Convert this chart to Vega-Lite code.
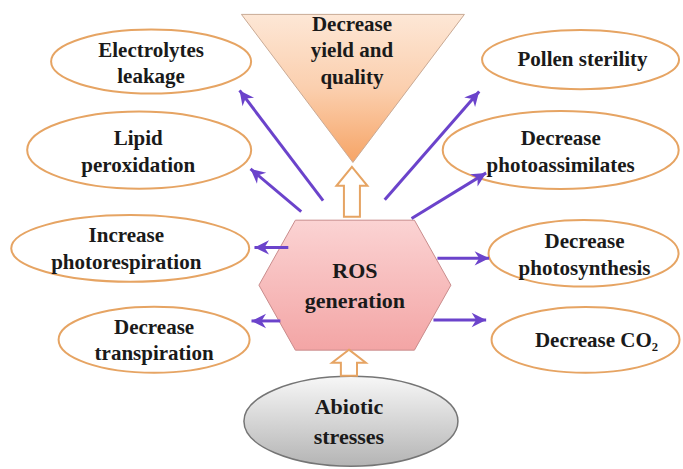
{
  "$schema": "https://vega.github.io/schema/vega-lite/v6.json",
  "width": 683,
  "height": 469,
  "padding": 0,
  "autosize": {"type": "fit", "contains": "padding"},
  "background": "white",
  "config": {"view": {"stroke": null}},
  "datasets": {
    "ellipses": [
      {"name": "Electrolytes leakage", "x": 152, "y": 62, "w": 200, "form": "k32"},
      {"name": "Lipid peroxidation", "x": 140, "y": 151, "w": 224, "form": "k34"},
      {"name": "Increase photorespiration", "x": 131, "y": 250, "w": 238, "form": "k28"},
      {"name": "Decrease transpiration", "x": 155, "y": 342, "w": 191, "form": "k34"},
      {"name": "Pollen sterility", "x": 584, "y": 60, "w": 197, "form": "k30"},
      {"name": "Decrease photoassimilates", "x": 564, "y": 151, "w": 236, "form": "k33"},
      {"name": "Decrease photosynthesis", "x": 587, "y": 255, "w": 190, "form": "k35"},
      {"name": "Decrease CO2", "x": 589, "y": 342, "w": 188, "form": "k35"}
    ],
    "shapes": [
      {"shape": "triangle", "x": 355, "y": 89, "w": 223},
      {"shape": "hexagon", "x": 357, "y": 287, "w": 192},
      {"shape": "abiotic", "x": 353, "y": 424, "w": 214},
      {"shape": "up_top", "x": 354, "y": 193, "w": 50},
      {"shape": "up_bottom", "x": 351, "y": 365, "w": 26}
    ],
    "arrows": [
      {"to": "Electrolytes leakage", "x": 325, "y": 202, "x2": 241, "y2": 91, "angle": 323.2},
      {"to": "Lipid peroxidation", "x": 303, "y": 213, "x2": 252, "y2": 170, "angle": 310.1},
      {"to": "Pollen sterility", "x": 387, "y": 201, "x2": 482, "y2": 92, "angle": 41.1},
      {"to": "Decrease photoassimilates", "x": 414, "y": 220, "x2": 489, "y2": 174, "angle": 58.5},
      {"to": "Increase photorespiration", "x": 290, "y": 249, "x2": 256, "y2": 249, "angle": 270},
      {"to": "Decrease transpiration", "x": 282, "y": 323, "x2": 253, "y2": 323, "angle": 270},
      {"to": "Decrease photosynthesis", "x": 440, "y": 260, "x2": 492, "y2": 260, "angle": 90},
      {"to": "Decrease CO2", "x": 436, "y": 322, "x2": 489, "y2": 322, "angle": 90}
    ],
    "labels": [
      {"text": "Electrolytes\nleakage", "x": 152, "y": 51, "group": "small"},
      {"text": "Lipid\nperoxidation", "x": 139, "y": 140, "group": "small"},
      {"text": "Increase\nphotorespiration", "x": 127, "y": 238, "group": "small"},
      {"text": "Decrease\ntranspiration", "x": 155, "y": 330, "group": "small"},
      {"text": "Pollen sterility", "x": 586, "y": 60, "group": "small"},
      {"text": "Decrease\nphotoassimilates", "x": 564, "y": 140, "group": "small"},
      {"text": "Decrease\nphotosynthesis", "x": 588, "y": 244, "group": "small"},
      {"text": "Decrease CO₂", "x": 600, "y": 343, "group": "small"},
      {"text": "Decrease\nyield and\nquality", "x": 354, "y": 25, "group": "small"},
      {"text": "ROS\ngeneration", "x": 357, "y": 273, "group": "big"},
      {"text": "Abiotic\nstresses", "x": 351, "y": 410, "group": "big"}
    ]
  },
  "layer": [
    {
      "data": {"name": "ellipses"},
      "mark": {"type": "point", "filled": true, "fill": "white", "stroke": "#e6a463", "strokeWidth": 2, "opacity": 1},
      "encoding": {
        "x": {"field": "x", "type": "quantitative", "scale": {"domain": [0, 683], "nice": false, "zero": false}, "axis": null},
        "y": {"field": "y", "type": "quantitative", "scale": {"domain": [0, 469], "nice": false, "zero": false, "reverse": true}, "axis": null},
        "size": {"field": "w", "type": "quantitative", "scale": {"type": "pow", "exponent": 2, "domain": [0, 100], "range": [0, 10000]}, "legend": null},
        "shape": {"field": "form", "type": "nominal", "legend": null, "scale": {"domain": ["k28", "k30", "k32", "k33", "k34", "k35"], "range": [
          "M -1 0 A 1 0.28 0 1 1 1 0 A 1 0.28 0 1 1 -1 0 Z",
          "M -1 0 A 1 0.30 0 1 1 1 0 A 1 0.30 0 1 1 -1 0 Z",
          "M -1 0 A 1 0.32 0 1 1 1 0 A 1 0.32 0 1 1 -1 0 Z",
          "M -1 0 A 1 0.33 0 1 1 1 0 A 1 0.33 0 1 1 -1 0 Z",
          "M -1 0 A 1 0.345 0 1 1 1 0 A 1 0.345 0 1 1 -1 0 Z",
          "M -1 0 A 1 0.35 0 1 1 1 0 A 1 0.35 0 1 1 -1 0 Z"
        ]}}
      }
    },
    {
      "data": {"name": "shapes"},
      "transform": [{"filter": "datum.shape === 'triangle'"}],
      "mark": {"type": "point", "filled": true, "opacity": 1, "shape": "M -1 -0.664 L 1 -0.664 L 0 0.664 Z",
        "fill": {"gradient": "linear", "x1": 0, "y1": 0, "x2": 0, "y2": 1, "stops": [{"offset": 0, "color": "#fde7d6"}, {"offset": 0.5, "color": "#fbcfae"}, {"offset": 1, "color": "#f6a466"}]},
        "stroke": "#c9aa95", "strokeWidth": 1},
      "encoding": {
        "x": {"field": "x", "type": "quantitative", "scale": {"domain": [0, 683], "nice": false, "zero": false}, "axis": null},
        "y": {"field": "y", "type": "quantitative", "scale": {"domain": [0, 469], "nice": false, "zero": false, "reverse": true}, "axis": null},
        "size": {"field": "w", "type": "quantitative", "scale": {"type": "pow", "exponent": 2, "domain": [0, 100], "range": [0, 10000]}, "legend": null}
      }
    },
    {
      "data": {"name": "shapes"},
      "transform": [{"filter": "datum.shape === 'hexagon'"}],
      "mark": {"type": "point", "filled": true, "opacity": 1, "shape": "M -1 0 L -0.62 -0.677 L 0.62 -0.677 L 1 0 L 0.62 0.677 L -0.62 0.677 Z",
        "fill": {"gradient": "linear", "x1": 0, "y1": 0, "x2": 0, "y2": 1, "stops": [{"offset": 0, "color": "#fbd3d3"}, {"offset": 1, "color": "#f3a5a5"}]},
        "stroke": "#c98c8c", "strokeWidth": 1},
      "encoding": {
        "x": {"field": "x", "type": "quantitative", "scale": {"domain": [0, 683], "nice": false, "zero": false}, "axis": null},
        "y": {"field": "y", "type": "quantitative", "scale": {"domain": [0, 469], "nice": false, "zero": false, "reverse": true}, "axis": null},
        "size": {"field": "w", "type": "quantitative", "scale": {"type": "pow", "exponent": 2, "domain": [0, 100], "range": [0, 10000]}, "legend": null}
      }
    },
    {
      "data": {"name": "shapes"},
      "transform": [{"filter": "datum.shape === 'abiotic'"}],
      "mark": {"type": "point", "filled": true, "opacity": 1, "shape": "M -1 0 A 1 0.42 0 1 1 1 0 A 1 0.42 0 1 1 -1 0 Z",
        "fill": {"gradient": "linear", "x1": 0, "y1": 0, "x2": 0, "y2": 1, "stops": [{"offset": 0, "color": "#f7f7f7"}, {"offset": 1, "color": "#b4b4b4"}]},
        "stroke": "#757575", "strokeWidth": 1.5},
      "encoding": {
        "x": {"field": "x", "type": "quantitative", "scale": {"domain": [0, 683], "nice": false, "zero": false}, "axis": null},
        "y": {"field": "y", "type": "quantitative", "scale": {"domain": [0, 469], "nice": false, "zero": false, "reverse": true}, "axis": null},
        "size": {"field": "w", "type": "quantitative", "scale": {"type": "pow", "exponent": 2, "domain": [0, 100], "range": [0, 10000]}, "legend": null}
      }
    },
    {
      "data": {"name": "arrows"},
      "mark": {"type": "rule", "color": "#6b43cb", "strokeWidth": 3},
      "encoding": {
        "x": {"field": "x", "type": "quantitative", "scale": {"domain": [0, 683], "nice": false, "zero": false}, "axis": null},
        "y": {"field": "y", "type": "quantitative", "scale": {"domain": [0, 469], "nice": false, "zero": false, "reverse": true}, "axis": null},
        "x2": {"field": "x2"},
        "y2": {"field": "y2"}
      }
    },
    {
      "data": {"name": "arrows"},
      "mark": {"type": "point", "filled": true, "opacity": 1, "fill": "#6b43cb", "strokeWidth": 0, "size": 400, "shape": "M 0 0 L 0.72 1.45 L 0 1.0 L -0.72 1.45 Z"},
      "encoding": {
        "x": {"field": "x2", "type": "quantitative", "scale": {"domain": [0, 683], "nice": false, "zero": false}, "axis": null},
        "y": {"field": "y2", "type": "quantitative", "scale": {"domain": [0, 469], "nice": false, "zero": false, "reverse": true}, "axis": null},
        "angle": {"field": "angle", "type": "quantitative", "scale": null}
      }
    },
    {
      "data": {"name": "shapes"},
      "transform": [{"filter": "datum.shape === 'up_top'"}],
      "mark": {"type": "point", "filled": true, "opacity": 1, "fill": "white", "stroke": "#e6a463", "strokeWidth": 2,
        "shape": "M 0 -1 L 0.62 -0.24 L 0.32 -0.24 L 0.32 1 L -0.32 1 L -0.32 -0.24 L -0.62 -0.24 Z"},
      "encoding": {
        "x": {"field": "x", "type": "quantitative", "scale": {"domain": [0, 683], "nice": false, "zero": false}, "axis": null},
        "y": {"field": "y", "type": "quantitative", "scale": {"domain": [0, 469], "nice": false, "zero": false, "reverse": true}, "axis": null},
        "size": {"field": "w", "type": "quantitative", "scale": {"type": "pow", "exponent": 2, "domain": [0, 100], "range": [0, 10000]}, "legend": null}
      }
    },
    {
      "data": {"name": "shapes"},
      "transform": [{"filter": "datum.shape === 'up_bottom'"}],
      "mark": {"type": "point", "filled": true, "opacity": 1, "fill": "white", "stroke": "#e6a463", "strokeWidth": 2,
        "shape": "M 0 -1 L 1.3 0 L 0.62 0 L 0.62 1 L -0.62 1 L -0.62 0 L -1.3 0 Z"},
      "encoding": {
        "x": {"field": "x", "type": "quantitative", "scale": {"domain": [0, 683], "nice": false, "zero": false}, "axis": null},
        "y": {"field": "y", "type": "quantitative", "scale": {"domain": [0, 469], "nice": false, "zero": false, "reverse": true}, "axis": null},
        "size": {"field": "w", "type": "quantitative", "scale": {"type": "pow", "exponent": 2, "domain": [0, 100], "range": [0, 10000]}, "legend": null}
      }
    },
    {
      "data": {"name": "labels"},
      "transform": [{"filter": "datum.group === 'small'"}],
      "mark": {"type": "text", "font": "Liberation Serif", "fontWeight": "bold", "fontSize": 21, "lineHeight": 26.5, "lineBreak": "\n", "align": "center", "baseline": "middle", "color": "#1a1a1a"},
      "encoding": {
        "x": {"field": "x", "type": "quantitative", "scale": {"domain": [0, 683], "nice": false, "zero": false}, "axis": null},
        "y": {"field": "y", "type": "quantitative", "scale": {"domain": [0, 469], "nice": false, "zero": false, "reverse": true}, "axis": null},
        "text": {"field": "text", "type": "nominal"}
      }
    },
    {
      "data": {"name": "labels"},
      "transform": [{"filter": "datum.group === 'big'"}],
      "mark": {"type": "text", "font": "Liberation Serif", "fontWeight": "bold", "fontSize": 22, "lineHeight": 29.5, "lineBreak": "\n", "align": "center", "baseline": "middle", "color": "#1a1a1a"},
      "encoding": {
        "x": {"field": "x", "type": "quantitative", "scale": {"domain": [0, 683], "nice": false, "zero": false}, "axis": null},
        "y": {"field": "y", "type": "quantitative", "scale": {"domain": [0, 469], "nice": false, "zero": false, "reverse": true}, "axis": null},
        "text": {"field": "text", "type": "nominal"}
      }
    }
  ]
}
